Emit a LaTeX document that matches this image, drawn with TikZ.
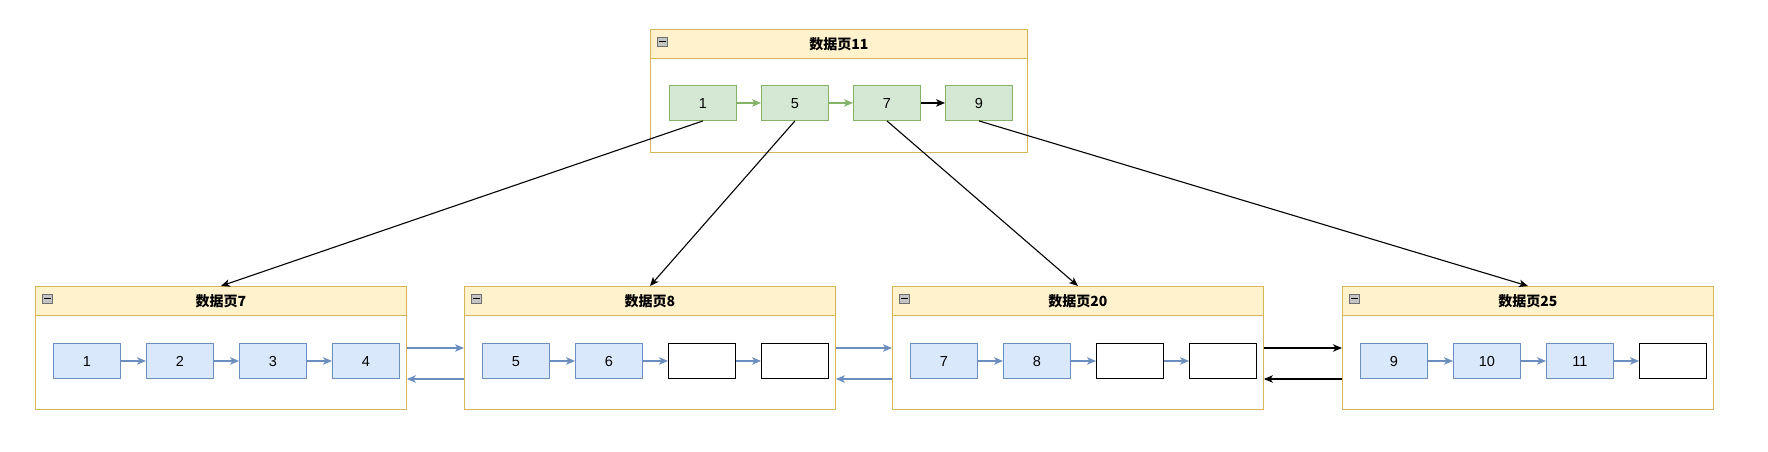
\documentclass[tikz,border=0pt]{standalone}
\usepackage{fontspec}
\setmainfont{Liberation Sans}
\newfontfamily\cjk{Noto Sans CJK SC}
\usetikzlibrary{arrows.meta}
\definecolor{hdrf}{HTML}{FFF2CC}
\definecolor{hdrb}{HTML}{D6B656}
\definecolor{gf}{HTML}{D5E8D4}
\definecolor{gb}{HTML}{82B366}
\definecolor{bf}{HTML}{DAE8FC}
\definecolor{bb}{HTML}{6C8EBF}
\definecolor{icf}{HTML}{C4C4C4}
\definecolor{icb}{HTML}{6E6E6E}
\tikzset{
  cont/.style={draw=hdrb, fill=white, line width=0.9pt, minimum width=#1, minimum height=123pt, anchor=north west, inner sep=0pt},
  hdr/.style={draw=hdrb, fill=hdrf, line width=0.9pt, minimum width=#1, minimum height=29pt, anchor=north west, inner sep=0pt, font=\cjk\bfseries\fontsize{14}{16}\selectfont},
  cellbase/.style={minimum width=67pt, minimum height=35pt, anchor=north west, inner sep=0pt, line width=0.9pt, text height=10.5pt, text depth=0pt, font=\fontsize{14.5}{16}\selectfont},
  gcell/.style={cellbase, draw=gb, fill=gf},
  bcell/.style={cellbase, draw=bb, fill=bf},
  ecell/.style={cellbase, draw=black, fill=white},
  tip/.style={-{Stealth[length=9pt,width=7.5pt,inset=2.5pt]}},
  garr/.style={tip, draw=gb, line width=1.3pt},
  barr/.style={tip, draw=bb, line width=1.3pt},
  karr/.style={tip, draw=black, line width=1.1pt},
  icon/.style={draw=icb, fill=icf, line width=0.7pt, minimum width=10pt, minimum height=9pt, inner sep=0pt, anchor=north west},
  minus/.style={line width=1pt, draw=black},
}
\begin{document}
\begin{tikzpicture}[x=1pt,y=-1pt]
\useasboundingbox (0,0) rectangle (1768,451);
\fill[white] (0,0) rectangle (1768,451);

% ---------- top container: page 11 ----------
\node[cont=377pt] (p11) at (650,29) {};
\node[hdr=377pt] (h11) at (650,29) {数据页11};
\node[icon] (i11) at (657,37) {};
\draw[minus] ([xshift=2pt]i11.west) -- ([xshift=-2pt]i11.east);
\node[gcell] (t1) at (669,85) {1};
\node[gcell] (t5) at (761,85) {5};
\node[gcell] (t7) at (853,85) {7};
\node[gcell] (t9) at (945,85) {9};
\draw[garr] (t1) -- (t5);
\draw[garr] (t5) -- (t7);
\draw[karr] (t7) -- (t9);

% ---------- bottom containers ----------
% page 7
\node[cont=371pt] (p7) at (35,286) {};
\node[hdr=371pt] (h7) at (35,286) {数据页7};
\node[icon] (i7) at (42,294) {};
\draw[minus] ([xshift=2pt]i7.west) -- ([xshift=-2pt]i7.east);
\node[bcell] (a1) at (53,343) {1};
\node[bcell] (a2) at (146,343) {2};
\node[bcell] (a3) at (239,343) {3};
\node[bcell] (a4) at (332,343) {4};
\draw[barr] (a1) -- (a2);
\draw[barr] (a2) -- (a3);
\draw[barr] (a3) -- (a4);

% page 8
\node[cont=371pt] (p8) at (464,286) {};
\node[hdr=371pt] (h8) at (464,286) {数据页8};
\node[icon] (i8) at (471,294) {};
\draw[minus] ([xshift=2pt]i8.west) -- ([xshift=-2pt]i8.east);
\node[bcell] (b1) at (482,343) {5};
\node[bcell] (b2) at (575,343) {6};
\node[ecell] (b3) at (668,343) {};
\node[ecell] (b4) at (761,343) {};
\draw[barr] (b1) -- (b2);
\draw[barr] (b2) -- (b3);
\draw[barr] (b3) -- (b4);

% page 20
\node[cont=371pt] (p20) at (892,286) {};
\node[hdr=371pt] (h20) at (892,286) {数据页20};
\node[icon] (i20) at (899,294) {};
\draw[minus] ([xshift=2pt]i20.west) -- ([xshift=-2pt]i20.east);
\node[bcell] (c1) at (910,343) {7};
\node[bcell] (c2) at (1003,343) {8};
\node[ecell] (c3) at (1096,343) {};
\node[ecell] (c4) at (1189,343) {};
\draw[barr] (c1) -- (c2);
\draw[barr] (c2) -- (c3);
\draw[barr] (c3) -- (c4);

% page 25
\node[cont=371pt] (p25) at (1342,286) {};
\node[hdr=371pt] (h25) at (1342,286) {数据页25};
\node[icon] (i25) at (1349,294) {};
\draw[minus] ([xshift=2pt]i25.west) -- ([xshift=-2pt]i25.east);
\node[bcell] (d1) at (1360,343) {9};
\node[bcell] (d2) at (1453,343) {10};
\node[bcell] (d3) at (1546,343) {11};
\node[ecell] (d4) at (1639,343) {};
\draw[barr] (d1) -- (d2);
\draw[barr] (d2) -- (d3);
\draw[barr] (d3) -- (d4);

% ---------- links between leaf pages ----------
\draw[barr] ([yshift=-62pt]p7.north east) -- ([yshift=-62pt]p8.north west);
\draw[barr] ([yshift=-93pt]p8.north west) -- ([yshift=-93pt]p7.north east);
\draw[barr] ([yshift=-62pt]p8.north east) -- ([yshift=-62pt]p20.north west);
\draw[barr] ([yshift=-93pt]p20.north west) -- ([yshift=-93pt]p8.north east);
\draw[karr] ([yshift=-62pt]p20.north east) -- ([yshift=-62pt]p25.north west);
\draw[karr] ([yshift=-93pt]p25.north west) -- ([yshift=-93pt]p20.north east);

% ---------- links from root to leaves ----------
\draw[karr] (t1.south) -- (h7.north);
\draw[karr] (t5.south) -- (h8.north);
\draw[karr] (t7.south) -- (h20.north);
\draw[karr] (t9.south) -- (h25.north);
\end{tikzpicture}
\end{document}
